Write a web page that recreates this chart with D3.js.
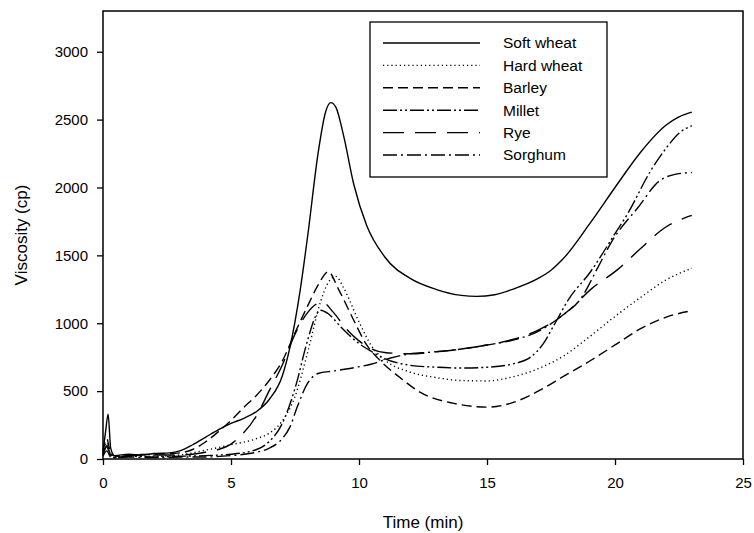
<!DOCTYPE html>
<html>
<head>
<meta charset="utf-8">
<script src="https://cdn.jsdelivr.net/npm/d3@7"></script>
<style>
  body { margin: 0; background: #fff; }
  svg { font-family: "Liberation Sans", Arial, sans-serif; }
</style>
</head>
<body>
<svg width="754" height="533"></svg>
<script>
// series names, in legend order
const seriesNames = ["Soft wheat", "Hard wheat", "Barley", "Millet", "Rye", "Sorghum"];
const xTicks = [0, 5, 10, 15, 20, 25];
const yTicks = [0, 500, 1000, 1500, 2000, 2500, 3000];

// [time (min), viscosity (cp)]
const softWheat = [[0,60],[0.1,200],[0.2,330],[0.3,80],[0.45,25],[1,35],[1.5,30],[2,40],[2.6,45],[3,60],[3.5,105],[4,160],[4.5,215],[5,262],[5.5,300],[6,350],[6.5,440],[7,610],[7.3,820],[7.7,1240],[8,1650],[8.4,2250],[8.7,2560],[8.9,2625],[9.1,2590],[9.4,2380],[9.8,2020],[10.3,1720],[11,1490],[12,1330],[13,1250],[14,1205],[14.6,1198],[15.3,1210],[16,1250],[17,1330],[17.5,1390],[18,1480],[19,1730],[20,2000],[21,2260],[22,2460],[22.5,2520],[23,2555]];
const hardWheat = [[0,40],[0.15,120],[0.3,30],[0.5,15],[1,25],[2,20],[3,30],[4,65],[5,105],[6,150],[6.5,190],[7,280],[7.5,460],[8,790],[8.5,1160],[8.8,1300],[9.1,1345],[9.4,1260],[10,1010],[10.5,830],[11,730],[12,640],[13,600],[14,578],[15,575],[16,605],[17,665],[18,760],[19,900],[20,1050],[21,1190],[22,1320],[23,1405]];
const barley = [[0,50],[0.15,150],[0.3,40],[0.5,20],[1,30],[2,35],[3,45],[3.5,70],[4,125],[4.5,200],[5,285],[5.5,380],[6,470],[6.5,580],[7,720],[7.5,930],[8,1130],[8.4,1280],[8.8,1380],[9.2,1250],[9.8,1020],[10.3,840],[10.8,730],[11.6,600],[12.4,490],[13.7,410],[15,382],[16,415],[17,500],[18,610],[19,720],[20,840],[21,960],[22,1045],[23,1092]];
const millet = [[0,30],[0.15,90],[0.3,20],[0.5,10],[1,20],[2,15],[3,20],[4,25],[5,35],[6,70],[6.5,130],[7,260],[7.5,520],[8,880],[8.3,1050],[8.5,1096],[8.8,1070],[9.3,970],[10,850],[10.5,790],[11,740],[12,690],[13,676],[14,670],[15,676],[16,700],[16.7,750],[17.2,850],[17.6,980],[18.2,1180],[19,1368],[20,1660],[20.5,1809],[21.4,2125],[22,2290],[22.5,2400],[23,2455]];
const rye = [[0,30],[0.15,100],[0.3,30],[0.5,15],[1,25],[2,30],[3,30],[4,50],[4.5,70],[5,110],[5.35,165],[6,320],[6.5,505],[7,690],[7.5,920],[8,1080],[8.4,1145],[8.6,1150],[9,1080],[9.5,960],[10,870],[10.5,810],[11,785],[12,775],[13,790],[14,810],[15,840],[16,880],[17,950],[17.5,1000],[18.2,1096],[19.1,1257],[20.1,1395],[21,1550],[21.9,1698],[23,1794]];
const sorghum = [[0,20],[0.15,60],[0.3,15],[0.5,10],[1,15],[2,10],[3,15],[4,15],[5,25],[6,50],[6.5,80],[7,150],[7.3,235],[7.6,390],[8,560],[8.4,630],[9,648],[9.9,676],[10.5,700],[11.2,742],[12,775],[12.8,787],[14,810],[15,840],[16,875],[17,940],[17.85,1044],[18.7,1191],[19.3,1400],[19.9,1610],[20.9,1853],[21.75,2051],[22.3,2095],[23,2110]];

const seriesData = [softWheat, hardWheat, barley, millet, rye, sorghum];
const dashes = [null, "1.2,3", "10,5", "14,3,2,3,2,3", "21,11", "14,4,2,4"];

const svg = d3.select("svg");
const x = d3.scaleLinear().domain([0, 25]).range([103, 743]);
const y = d3.scaleLinear().domain([0, 3300]).range([459, 11]);

// axes
const xAxis = svg.append("g")
    .attr("transform", "translate(0,459)")
    .call(d3.axisBottom(x).tickValues(xTicks).tickFormat(d3.format("d")).tickSize(6).tickPadding(12));
const yAxis = svg.append("g")
    .attr("transform", "translate(103,0)")
    .call(d3.axisLeft(y).tickValues(yTicks).tickFormat(d3.format("d")).tickSize(6).tickPadding(9));

[xAxis, yAxis].forEach(g => {
    g.select(".domain").remove();
    g.selectAll("line").attr("stroke", "#000").attr("stroke-width", 1.3);
    g.selectAll("text").attr("font-size", 15).attr("fill", "#000")
        .style("font-family", "'Liberation Sans', Arial, sans-serif");
});

// frame
svg.append("rect")
    .attr("x", x(0)).attr("y", y(3300))
    .attr("width", x(25) - x(0)).attr("height", y(0) - y(3300))
    .attr("fill", "none").attr("stroke", "#000").attr("stroke-width", 1.5);

// axis titles
svg.append("text")
    .attr("x", (x(0) + x(25)) / 2).attr("y", 528)
    .attr("text-anchor", "middle").attr("font-size", 17)
    .text("Time (min)");
svg.append("text")
    .attr("transform", "translate(27," + ((y(0) + y(3300)) / 2) + ") rotate(-90)")
    .attr("text-anchor", "middle").attr("font-size", 17)
    .text("Viscosity (cp)");

// curves
const line = d3.line()
    .x(d => x(d[0]))
    .y(d => y(d[1]))
    .curve(d3.curveMonotoneX);

svg.append("g").selectAll("path")
    .data(seriesData)
    .enter().append("path")
    .attr("d", line)
    .attr("fill", "none")
    .attr("stroke", "#000")
    .attr("stroke-width", 1.4)
    .attr("stroke-dasharray", (d, i) => dashes[i]);

// legend
const legend = svg.append("g");
legend.append("rect")
    .attr("x", 370).attr("y", 22).attr("width", 237).attr("height", 155)
    .attr("fill", "#fff").attr("stroke", "#000").attr("stroke-width", 1.3);

const rows = legend.selectAll(".row")
    .data(seriesNames)
    .enter().append("g")
    .attr("class", "row")
    .attr("transform", (d, i) => "translate(0," + (43 + i * 22.4) + ")");
rows.append("line")
    .attr("x1", 383).attr("x2", 480)
    .attr("stroke", "#000").attr("stroke-width", 1.4)
    .attr("stroke-dasharray", (d, i) => dashes[i]);
rows.append("text")
    .attr("x", 503).attr("dy", "0.35em")
    .attr("font-size", 15.5)
    .text(d => d);
</script>
</body>
</html>
